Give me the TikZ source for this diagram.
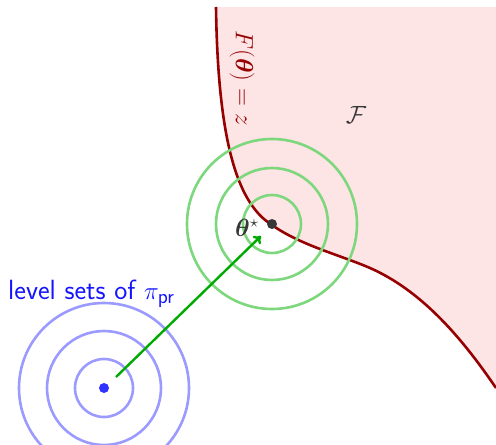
\documentclass[tikz,border=0pt]{standalone}
\usepackage{amsmath,amssymb}
\usepackage{bm}
\usetikzlibrary{arrows.meta}
\definecolor{pinkfill}{RGB}{253,228,229}
\definecolor{curvered}{RGB}{150,0,0}
\definecolor{ringgreen}{RGB}{125,215,125}
\definecolor{arrowgreen}{RGB}{0,170,0}
\definecolor{ringblue}{RGB}{155,155,255}
\definecolor{dotblue}{RGB}{50,50,255}
\definecolor{labelblue}{RGB}{20,20,255}
\definecolor{darkgray}{RGB}{55,55,55}
\tikzset{
  greenring/.style={draw=ringgreen, line width=2.6pt},
  bluering/.style={draw=ringblue, line width=2.6pt},
  bigtext/.style={font=\fontsize{26}{30}\selectfont, inner sep=0pt},
}
\begin{document}
\begin{tikzpicture}[x=1pt,y=-1pt]
\useasboundingbox (0,0) rectangle (496,445);
\def\boundary{(216,7) .. controls (218,150) and (240,205) .. (272,225) .. controls (300,245) and (340,255) .. (370,268) .. controls (420,290) and (460,335) .. (496,388)}
% feasible region
\fill[pinkfill] \boundary -- (496,7) -- cycle;
\draw[curvered, line width=2.6pt] \boundary;
% green rings
\coordinate (star) at (272,224);
\foreach \r in {29,56,85} \draw[greenring] (star) circle (\r);
% blue rings
\coordinate (prior) at (104,388);
\foreach \r in {29,57,85} \draw[bluering] (prior) circle (\r);
% arrow
\coordinate (astart) at (116,377);
\coordinate (aend) at (261,236);
\draw[arrowgreen, line width=2.4pt, -{To[length=7pt,width=11pt]}] (astart) -- (aend);
% dots
\node[circle, fill=darkgray, inner sep=0pt, minimum size=10pt] (stardot) at (star) {};
\node[circle, fill=dotblue, inner sep=0pt, minimum size=10pt] (priordot) at (prior) {};
% labels
\node[bigtext, text=darkgray] (thetalab) at (247,228) {$\bm{\theta}^{\star}$};
\node[bigtext, font=\fontsize{27.8}{32}\selectfont, text=labelblue, anchor=west] (levellab) at (8,294) {\sffamily level sets of $\pi_{\mathsf{pr}}$};
\node[bigtext, text=curvered, rotate=-90] (flab) at (242,78) {$F(\bm{\theta}) = z$};
\node[bigtext, font=\fontsize{28}{32}\selectfont, text=darkgray] (calF) at (356,115) {$\mathcal{F}$};
\end{tikzpicture}
\end{document}
